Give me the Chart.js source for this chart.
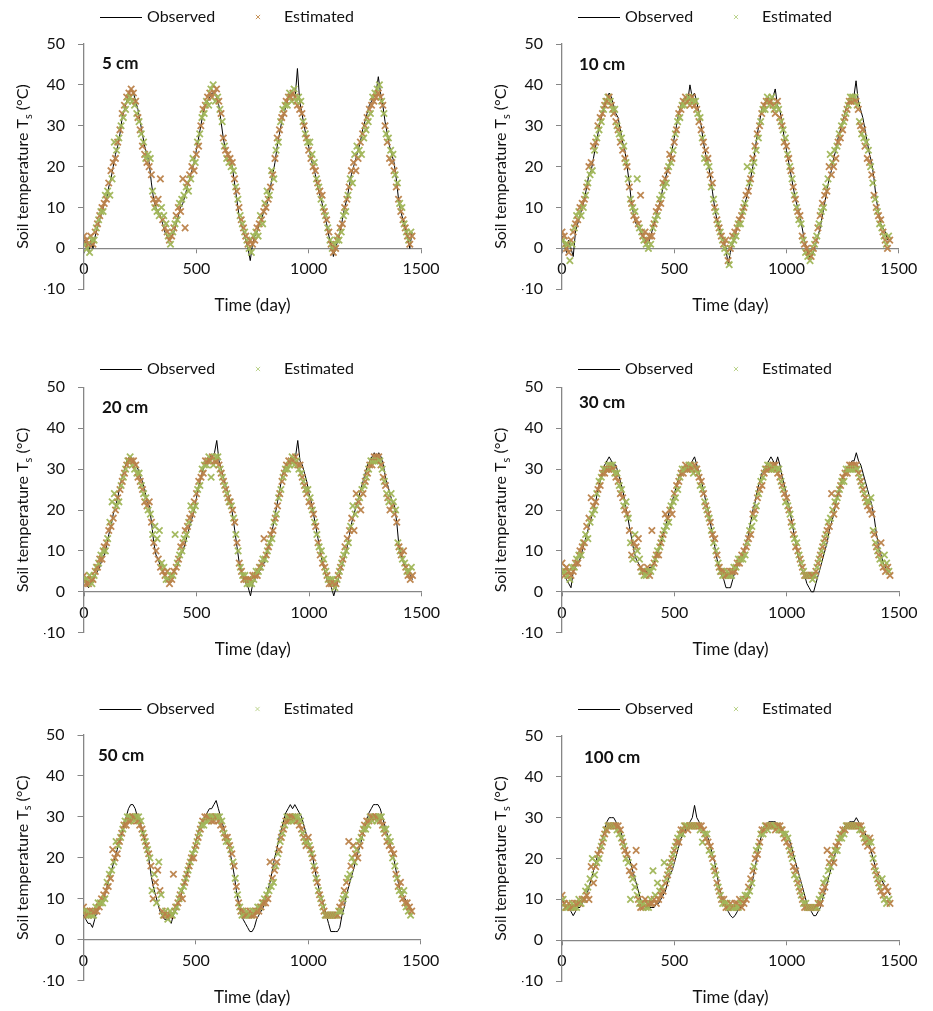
<!DOCTYPE html>
<html><head><meta charset="utf-8">
<script src="https://cdn.jsdelivr.net/npm/chart.js@4/dist/chart.umd.min.js"></script>
<style>
body{margin:0;background:#fff;width:933px;height:1011px;position:relative;overflow:hidden}
canvas{position:absolute}
</style>
</head><body>
<canvas id="c0" width="466" height="340" style="left:0;top:0"></canvas>
<canvas id="c1" width="467" height="340" style="left:466px;top:0"></canvas>
<canvas id="c2" width="466" height="340" style="left:0;top:340px"></canvas>
<canvas id="c3" width="467" height="340" style="left:466px;top:340px"></canvas>
<canvas id="c4" width="466" height="331" style="left:0;top:680px"></canvas>
<canvas id="c5" width="467" height="331" style="left:466px;top:680px"></canvas>
<script>
// ---------- DATA ----------
const depthLabels = ['5 cm','10 cm','20 cm','30 cm','50 cm','100 cm'];
const seriesNames = ['Observed','Estimated'];
const xTicks = [0,500,1000,1500];
const yTicks = [-10,0,10,20,30,40,50];

const obsDays = [0,10,20,30,40,50,60,70,80,90,100,110,120,130,140,150,160,170,180,190,
200,210,220,230,240,250,260,270,280,290,300,310,320,330,340,350,360,370,380,390,
400,410,420,430,440,450,460,470,480,490,500,510,520,530,540,550,560,570,580,590,
600,610,620,630,640,650,660,670,680,690,700,710,720,730,740,750,760,770,780,790,
800,810,820,830,840,850,860,870,880,890,900,910,920,930,940,950,960,970,980,990,
1000,1010,1020,1030,1040,1050,1060,1070,1080,1090,1100,1110,1120,1130,1140,1150,1160,1170,1180,1190,
1200,1210,1220,1230,1240,1250,1260,1270,1280,1290,1300,1310,1320,1330,1340,1350,1360,1370,1380,1390,
1400,1410,1420,1430,1440,1450,1460];

const estDays = [0,5,10,15,20,25,30,35,40,45,50,55,60,65,70,75,80,85,90,95,
100,105,110,115,120,125,130,135,140,145,150,155,160,165,170,175,180,185,190,195,
200,205,210,215,220,225,230,235,240,245,250,255,260,265,270,275,280,285,290,295,
300,305,310,315,320,325,330,335,340,345,350,355,360,365,370,375,380,385,390,395,
400,405,410,415,420,425,430,435,440,445,450,455,460,465,470,475,480,485,490,495,
500,505,510,515,520,525,530,535,540,545,550,555,560,565,570,575,580,585,590,595,
600,605,610,615,620,625,630,635,640,645,650,655,660,665,670,675,680,685,690,695,
700,705,710,715,720,725,730,735,740,745,750,755,760,765,770,775,780,785,790,795,
800,805,810,815,820,825,830,835,840,845,850,855,860,865,870,875,880,885,890,895,
900,905,910,915,920,925,930,935,940,945,950,955,960,965,970,975,980,985,990,995,
1000,1005,1010,1015,1020,1025,1030,1035,1040,1045,1050,1055,1060,1065,1070,1075,1080,1085,1090,1095,
1100,1105,1110,1115,1120,1125,1130,1135,1140,1145,1150,1155,1160,1165,1170,1175,1180,1185,1190,1195,
1200,1205,1210,1215,1220,1225,1230,1235,1240,1245,1250,1255,1260,1265,1270,1275,1280,1285,1290,1295,
1300,1305,1310,1315,1320,1325,1330,1335,1340,1345,1350,1355,1360,1365,1370,1375,1380,1385,1390,1395,
1400,1405,1410,1415,1420,1425,1430,1435,1440,1445,1450,1455,1460];

// 5 cm
const obs5 = [2,1,-1,2,0,3,5,7,9,11, 12,15,17,20,23,25,28,32,34,36, 38,39,38,36,34,31,28,25,23,21,
16,12,10,9,8,6,4,3,2,3, 4,6,8,10,11,13,15,17,19,21, 24,27,30,33,35,36,37,38,38,37,
35,31,27,24,23,22,20,16,12,8, 6,4,2,0,-3,1,3,4,6,7, 9,10,12,15,18,21,25,28,31,33,
35,37,38,38,37,44,36,33,30,27, 25,22,20,18,15,13,11,8,6,3, 1,-2,0,2,4,7,10,12,15,18,
20,22,24,26,29,31,33,35,36,37, 38,42,38,35,31,28,25,23,21,17, 12,9,7,5,3,0,4];
const est5 = [3,1,2,0,1,-1,3,2,1,2,4,5,6,7,8,9,10,9,11,13,
12,14,16,13,19,17,21,26,22,24,26,27,29,30,33,32,35,34,37,36,
38,37,39,36,38,35,36,33,32,31,29,28,25,26,23,22,21,23,20,22,
18,14,12,10,11,9,12,8,17,10,7,8,5,6,4,3,2,1,3,4,
5,6,8,7,10,11,9,12,17,13,5,15,16,14,18,17,20,22,19,21,
23,26,25,28,30,32,34,33,35,36,37,35,38,39,37,40,38,36,39,37,
36,34,33,31,27,25,24,22,23,21,22,20,21,19,17,15,14,12,10,8,
7,6,5,4,3,2,1,0,2,-1,1,3,2,4,5,3,6,8,7,6,
9,11,10,14,12,13,15,19,18,17,22,24,27,26,29,31,32,34,33,35,
36,35,37,38,37,36,38,39,37,36,35,37,34,36,33,31,30,28,27,26,
24,26,22,23,20,21,19,17,16,15,14,12,13,10,9,8,7,5,4,2,
1,0,-1,1,0,2,3,2,5,4,6,8,10,9,12,13,15,17,19,16,
21,23,19,25,22,24,26,23,28,27,30,29,32,31,34,33,35,37,36,38,
37,39,38,40,37,36,35,33,30,28,26,27,22,24,21,23,19,18,15,16,
12,11,9,10,7,6,5,4,3,2,1,4,3];

// 10 cm
const obs10 = [3,1,-1,2,0,-2,4,6,8,10, 12,15,18,19,22,25,28,31,33,35, 36,38,37,35,33,32,29,26,24,20,
16,11,8,6,5,4,3,2,1,2, 4,6,8,10,12,15,17,19,21,24, 27,30,33,35,36,37,36,40,37,38,
36,33,30,26,23,21,18,14,10,7, 5,3,2,0,-4,-1,1,3,5,7, 8,10,12,14,17,20,24,28,31,34,
35,36,37,36,37,39,35,34,31,27, 24,21,18,15,12,10,8,5,2,0, -2,-2,-1,1,3,5,8,11,14,17,
19,22,24,27,29,31,33,35,36,36, 37,41,36,34,32,29,26,23,21,17, 12,9,6,5,4,2,3];
const est10 = [4,2,3,1,0,1,-1,-3,2,1,4,5,6,8,7,9,10,8,11,10,
12,13,15,16,20,18,21,19,25,24,26,27,30,29,32,31,33,34,35,36,
36,37,37,36,35,34,33,34,31,30,29,28,26,27,24,25,22,21,20,17,
15,12,11,10,8,9,7,17,6,5,13,4,3,2,4,1,2,0,3,1,
3,5,6,7,9,8,10,12,11,13,16,15,17,16,19,20,23,21,22,24,
26,28,29,31,33,32,34,35,36,35,37,36,36,37,35,36,37,36,35,36,
34,33,31,32,29,27,26,22,24,21,22,20,18,15,16,12,10,9,7,6,
5,4,3,2,1,0,2,-1,-3,-4,0,1,3,2,4,3,5,6,7,6,
8,9,10,11,13,20,14,16,17,19,22,21,25,24,28,27,30,31,33,34,
35,34,36,37,36,35,36,37,35,34,33,35,36,34,32,31,30,29,26,27,
25,23,22,20,19,17,15,13,12,10,9,7,8,6,3,2,1,-1,0,-2,
-1,-3,-2,-1,0,1,2,3,5,6,8,9,11,10,13,15,14,17,20,23,
18,21,20,24,22,25,26,28,27,30,29,31,32,33,34,35,36,37,36,37,
36,37,36,35,34,31,30,28,29,27,25,26,22,24,21,20,18,16,13,12,
10,9,8,6,7,5,4,3,2,1,0,3,2];

// 20 cm
const obs20 = [3,2,1,2,3,4,5,6,8,9, 11,14,16,19,21,23,26,28,30,32, 33,33,32,31,30,28,27,25,22,21,
17,12,9,8,6,5,4,3,3,4, 5,6,7,9,10,12,14,16,18,20, 23,26,28,30,31,32,33,33,34,37,
32,30,28,26,24,22,19,15,11,7, 5,3,2,1,-1,2,3,4,5,6, 7,9,11,13,16,19,22,25,28,30,
31,32,33,32,33,37,32,31,29,27, 24,22,19,16,13,10,7,5,3,2, 1,-1,1,3,5,7,9,11,14,17,
19,21,23,25,27,29,31,32,33,34, 33,34,33,31,28,26,24,22,21,17, 11,9,7,6,5,4,3];
const est20 = [4,3,2,3,2,4,3,2,3,4,5,6,6,7,8,9,8,10,11,10,
12,13,15,17,16,22,18,24,20,21,23,22,25,26,27,28,29,30,31,32,
32,33,32,31,32,30,31,29,28,29,27,26,25,24,22,23,21,20,22,19,
17,14,12,16,10,13,8,15,6,7,5,6,4,3,5,3,2,4,3,4,
5,14,6,7,8,9,11,10,12,13,15,14,16,17,18,21,19,20,22,21,
24,25,27,26,28,30,29,31,32,31,32,33,32,28,33,31,32,33,32,33,
31,30,29,28,27,26,25,24,23,22,22,21,20,18,17,14,12,10,7,6,
5,4,3,4,3,2,3,2,3,2,4,3,4,5,4,5,6,6,7,8,
13,8,9,10,11,12,14,13,15,17,18,19,21,23,24,25,27,28,29,30,
31,30,32,31,32,33,32,31,33,32,31,30,31,29,28,27,26,25,24,25,
22,23,21,20,19,17,16,14,12,11,9,10,7,8,6,5,4,3,2,3,
2,3,2,1,2,3,4,5,6,7,8,9,11,10,13,12,15,16,18,21,
15,19,24,21,22,23,20,25,24,26,27,28,29,30,31,32,31,32,33,32,
33,32,33,32,31,30,28,27,26,24,23,22,20,24,21,22,19,20,17,12,
11,10,9,8,10,7,6,5,4,5,3,6,4];

// 30 cm
const obs30 = [5,4,3,2,1,5,6,7,8,10, 12,14,16,18,20,22,25,27,29,31, 32,33,32,31,31,29,27,25,22,19,
16,13,10,8,7,6,5,5,5,6, 6,7,9,10,12,14,16,18,20,22, 24,26,28,29,30,30,31,31,32,33,
31,29,27,25,22,20,17,14,11,8, 6,4,3,1,1,1,3,5,6,7, 8,10,12,14,17,20,22,25,27,29,
30,31,32,33,32,31,33,31,28,26, 23,21,18,15,12,9,7,5,4,2, 1,0,0,2,4,6,8,10,12,15,
17,19,22,24,26,28,29,30,31,32, 32,34,32,31,29,27,25,23,21,18, 14,11,9,7,6,5,5];
const est30 = [7,5,4,5,6,4,5,3,4,6,5,6,7,8,7,9,10,9,11,12,
12,14,16,13,18,17,23,19,21,20,22,24,25,27,26,28,29,30,29,30,
30,31,30,31,30,31,30,29,28,29,27,26,24,25,23,21,20,22,19,18,
15,12,9,8,12,14,11,10,13,8,6,5,5,4,5,4,6,5,4,5,
15,6,7,8,9,10,9,11,12,13,14,15,19,16,18,17,20,21,19,22,
24,23,26,25,27,28,29,30,29,30,31,30,30,31,30,31,30,29,31,30,
30,29,28,26,27,25,24,22,21,20,19,18,17,15,14,12,13,10,9,7,
6,5,5,4,5,4,4,5,4,4,5,4,5,6,5,6,7,8,7,8,
9,8,10,9,11,12,13,15,14,16,19,18,20,21,23,24,25,27,26,28,
29,30,30,31,30,31,30,30,31,30,31,30,29,30,28,27,26,25,24,22,
23,21,20,19,17,16,14,13,11,12,10,9,8,7,6,5,4,4,4,4,
4,4,4,3,4,4,5,6,7,8,9,10,11,12,13,14,15,17,16,18,
24,20,19,22,21,23,24,25,26,27,28,27,29,30,29,30,31,30,31,30,
31,30,31,30,29,28,27,26,25,24,23,22,21,22,20,23,19,15,14,12,
11,10,9,8,12,7,6,9,5,7,6,5,4];

// 50 cm
const obs50 = [6,5,4,4,3,5,7,8,9,10, 12,14,16,18,20,22,24,26,28,30, 32,33,33,32,30,29,27,25,22,20,
16,13,11,9,7,6,5,5,5,4, 6,7,9,10,12,14,16,18,20,22, 24,26,28,29,30,31,32,32,33,34,
32,30,28,26,24,22,19,16,12,9, 7,5,4,3,2,2,3,5,6,7, 8,10,12,14,17,20,22,25,27,29,
31,32,33,32,33,32,31,30,28,26, 24,22,20,17,14,12,10,8,6,4, 2,2,2,2,3,6,8,11,13,15,
17,19,21,23,25,27,29,31,32,33, 33,33,32,30,28,26,24,22,20,17, 14,12,11,10,9,8,7];
const est50 = [8,7,6,7,6,6,7,6,7,6,7,8,7,9,8,9,10,9,11,10,
12,14,13,16,15,17,22,19,20,24,21,23,24,25,26,27,28,29,28,30,
29,30,29,30,30,29,30,30,29,30,28,29,27,26,25,24,23,22,21,20,
18,12,10,16,14,9,17,19,12,11,7,6,6,7,6,5,6,7,6,6,
16,7,8,8,9,10,11,12,10,13,14,15,16,17,18,19,20,21,20,22,
23,24,25,26,27,28,29,28,30,29,30,29,30,30,29,30,29,30,30,30,
29,30,28,29,27,26,25,24,25,24,23,22,21,19,18,15,13,11,9,8,
7,6,7,6,6,7,6,6,7,6,6,7,6,7,7,8,7,8,8,9,
9,10,9,11,10,12,19,13,15,14,17,18,19,21,22,24,25,26,27,28,
29,30,29,30,30,29,30,29,30,30,29,30,28,29,27,26,25,24,23,24,
25,23,22,21,20,18,17,15,14,12,11,10,9,8,7,6,6,6,6,6,
6,6,6,6,6,6,6,7,8,7,9,10,12,11,14,15,24,16,18,20,
23,19,21,22,20,24,23,25,26,27,28,27,29,28,29,30,30,29,30,30,
30,29,30,30,29,30,28,27,26,27,24,25,23,24,22,20,21,18,16,15,
13,12,14,11,10,12,9,8,9,7,8,6,7];

// 100 cm
const obs100 = [10,9,8,8,7,6,7,8,8,9, 10,11,13,15,17,19,21,23,25,27, 29,30,30,30,29,28,27,25,23,21,
20,18,16,14,12,10,9,8,8,8, 8,8,9,9,10,11,12,14,16,17, 19,21,23,25,26,27,28,29,30,33,
30,29,28,27,26,25,23,21,19,16, 13,11,9,8,7,6,5.5,6,7,8, 8,9,10,11,13,15,18,21,24,26,
28,28,29,29,29,29,28,28,27,26, 26,25,23,21,19,17,15,13,11,9, 8,7,6,6,7,8,10,12,14,16,
18,20,22,24,25,27,28,28,29,29, 29,30,29,28,27,26,25,23,21,19, 17,16,15,14,13,12,11];
const est100 = [11,10,9,8,8,8,9,8,8,9,8,8,9,8,9,10,9,9,10,10,
10,12,11,13,10,15,18,20,14,16,18,19,21,20,22,23,24,25,26,27,
27,28,28,28,28,28,28,28,28,27,28,26,27,25,24,23,22,20,21,19,
17,10,16,15,18,13,22,11,10,9,8,9,8,9,10,8,9,8,9,10,
9,17,10,11,9,14,10,12,11,13,12,19,14,15,16,17,18,19,20,21,
22,23,24,25,24,26,27,26,27,28,28,28,27,28,28,28,28,28,28,28,
28,28,28,27,28,24,27,26,25,26,24,22,23,21,20,18,17,16,14,13,
12,11,10,9,10,9,8,9,8,8,9,8,8,8,9,8,9,8,10,9,
8,10,9,11,10,11,13,12,15,14,17,18,20,22,21,23,24,26,27,26,
27,28,28,27,28,28,28,28,28,28,27,28,28,27,28,27,27,26,25,26,
24,25,23,22,21,20,18,16,17,15,14,13,12,11,10,9,8,9,8,8,
8,8,8,8,8,8,8,8,9,10,9,11,12,14,13,15,22,17,19,18,
21,20,19,22,23,22,24,25,26,25,27,26,27,28,28,28,28,28,28,28,
28,28,28,28,28,27,28,27,26,25,24,25,23,24,25,24,22,20,18,17,
16,15,14,13,12,15,11,10,13,9,12,10,9];

const obsSeries = [obs5, obs10, obs20, obs30, obs50, obs100];
const estSeries = [est5, est10, est20, est30, est50, est100];

// ---------- LAYOUT / STYLE ----------
const panelLayout = [
  {id:'c0', pad:{left:44, right:45, top:44, bottom:50.8}, legendY:17, depthX:102, depthY:64, legendMarker:'#C8955C'},
  {id:'c1', pad:{left:56, right:34.3, top:44, bottom:50.8}, legendY:17, depthX:113, depthY:65, legendMarker:'#BCD48E'},
  {id:'c2', pad:{left:44, right:44.5, top:47.3, bottom:47.3}, legendY:29, depthX:102, depthY:68, legendMarker:'#BCD48E'},
  {id:'c3', pad:{left:56, right:34, top:47.3, bottom:47.3}, legendY:29, depthX:113, depthY:63, legendMarker:'#BCD48E'},
  {id:'c4', pad:{left:43.5, right:45.3, top:55, bottom:30.3}, legendY:29, depthX:98, depthY:76, legendMarker:'#BCD48E'},
  {id:'c5', pad:{left:56, right:34, top:56, bottom:30}, legendY:29, depthX:118, depthY:78, legendMarker:'#BCD48E'}
];
const BROWN = 'rgba(186,130,74,0.95)';
const GREEN = 'rgba(160,182,88,0.95)';
const AXIS = '#868686';
const FONT = 'Lato';

Chart.defaults.font.family = FONT;
Chart.defaults.color = '#111';

const decoPlugin = {
  id: 'deco',
  afterDraw(chart, args, o) {
    const ctx = chart.ctx, ca = chart.chartArea;
    ctx.save();
    // legend
    const ly = o.legendY;
    ctx.strokeStyle = '#000'; ctx.lineWidth = 1;
    ctx.beginPath(); ctx.moveTo(ca.left + 16, ly + 0.5); ctx.lineTo(ca.left + 58, ly + 0.5); ctx.stroke();
    ctx.fillStyle = '#111'; ctx.font = '16px ' + FONT;
    ctx.textAlign = 'left'; ctx.textBaseline = 'middle';
    ctx.fillText(chart.data.datasets[0].label, ca.left + 63, ly);
    ctx.strokeStyle = o.legendMarker;
    Chart.helpers.drawPoint(ctx, {pointStyle:'crossRot', radius:3, borderWidth:1, rotation:0}, ca.left + 174, ly);
    ctx.fillText(chart.data.datasets[1].label, ca.left + 200, ly);
    // depth label
    ctx.font = 'bold 17px ' + FONT;
    ctx.fillText(o.depth, o.depthX, o.depthY);
    // y axis title with subscript
    ctx.translate(ca.left - 61, (ca.top + ca.bottom) / 2);
    ctx.rotate(-Math.PI / 2);
    const f1 = '16px ' + FONT, f2 = '11px ' + FONT;
    const t1 = 'Soil temperature T', t2 = 's', t3 = ' (°C)';
    ctx.font = f1; const w1 = ctx.measureText(t1).width, w3 = ctx.measureText(t3).width;
    ctx.font = f2; const w2 = ctx.measureText(t2).width;
    let x = -(w1 + w2 + w3) / 2;
    ctx.font = f1; ctx.fillText(t1, x, 0); x += w1;
    ctx.font = f2; ctx.fillText(t2, x, 5); x += w2;
    ctx.font = f1; ctx.fillText(t3, x, 0);
    ctx.restore();
  }
};

panelLayout.forEach((p, k) => {
  const obs = obsSeries[k], est = estSeries[k];
  new Chart(document.getElementById(p.id), {
    type: 'scatter',
    data: {
      datasets: [
        {
          label: seriesNames[0],
          data: obsDays.map((d, i) => ({x: d, y: obs[i]})),
          showLine: true, borderColor: '#000', borderWidth: 1,
          pointRadius: 0, pointHoverRadius: 0, tension: 0, order: 1
        },
        {
          label: seriesNames[1],
          data: estDays.map((d, i) => ({x: d, y: est[i]})),
          showLine: false, pointStyle: 'crossRot', pointRadius: 4.5, pointBorderWidth: 1.8,
          pointBorderColor: c => (c.dataIndex % 2 ? GREEN : BROWN),
          pointBackgroundColor: c => (c.dataIndex % 2 ? GREEN : BROWN),
          order: 0
        }
      ]
    },
    options: {
      responsive: false, animation: false,
      layout: {padding: p.pad},
      plugins: {
        legend: {display: false}, tooltip: {enabled: false},
        deco: {legendY: p.legendY, depthX: p.depthX, depthY: p.depthY, depth: depthLabels[k], legendMarker: p.legendMarker}
      },
      scales: {
        x: {
          type: 'linear', min: xTicks[0], max: xTicks[xTicks.length - 1],
          position: {y: 0},
          afterBuildTicks: s => { s.ticks = xTicks.map(v => ({value: v})); },
          ticks: {font: {size: 16, family: FONT}, color: '#111', padding: 7, maxRotation: 0, callback: v => String(v)},
          grid: {drawOnChartArea: false, color: AXIS, tickLength: 4},
          border: {color: AXIS, width: 1.3},
          title: {display: true, text: 'Time (day)', font: {size: 17, family: FONT}, color: '#111', padding: {top: 10, bottom: 0}}
        },
        y: {
          type: 'linear', min: yTicks[0], max: yTicks[yTicks.length - 1],
          afterBuildTicks: s => { s.ticks = yTicks.map(v => ({value: v})); },
          afterFit: s => { s.width = 40; },
          ticks: {font: {size: 16, family: FONT}, color: '#111', padding: 13, callback: v => String(v)},
          grid: {drawOnChartArea: false, color: AXIS, tickLength: 6},
          border: {color: AXIS, width: 1.3}
        }
      }
    },
    plugins: [decoPlugin]
  });
});
</script>
</body></html>
